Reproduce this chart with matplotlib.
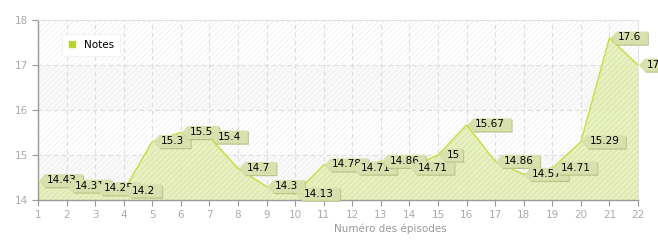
import numpy as np
import matplotlib.pyplot as plt
from matplotlib.patches import Polygon
from matplotlib.lines import Line2D
from matplotlib.transforms import Affine2D, ScaledTranslation

episodes = list(range(1, 23))
notes = [14.43, 14.31, 14.25, 14.2, 15.3, 15.5, 15.4, 14.7, 14.3, 14.13, 14.78,
         14.71, 14.86, 14.71, 15, 15.67, 14.86, 14.57, 14.71, 15.29, 17.6, 17]
labels = ['14.43', '14.31', '14.25', '14.2', '15.3', '15.5', '15.4', '14.7', '14.3',
          '14.13', '14.78', '14.71', '14.86', '14.71', '15', '15.67', '14.86',
          '14.57', '14.71', '15.29', '17.6', '17']
yticks = [14, 15, 16, 17, 18]

plt.rcParams['hatch.linewidth'] = 0.6
fig = plt.figure(figsize=(6.58, 2.4), dpi=100)
ax = fig.add_axes([38 / 658, 40 / 240, 600 / 658, 180 / 240])
ax.set_xlim(1, 22)
ax.set_ylim(14, 18)

# striped background bands + hatch
for lo in (14, 16):
    ax.axhspan(lo, lo + 1, fc='#f9f9f9', ec='none', zorder=0)
ax.axhspan(14, 18, fc='none', ec='#efefef', hatch='//////', lw=0, zorder=0.5)

ax.grid(True, color='#dddddd', ls=(0, (4, 3)), lw=0.8, zorder=1)

ax.fill_between(episodes, notes, 14, color='#e5efb8', alpha=0.85, lw=0, zorder=2)
ax.fill_between(episodes, notes, 14, fc='none', ec='#d8e4a4', hatch='//////', lw=0, zorder=2.1)
ax.plot(episodes, notes, color='#c2df3a', lw=1.0, zorder=3)

# tag-shaped value labels
for i, (x, y, s) in enumerate(zip(episodes, notes, labels)):
    z = 4 + i * 0.1
    tr = Affine2D() + ScaledTranslation(x, y, ax.transData)
    w = 6 + len(s) * 6.6 + 6
    pts = [(1, 0), (7, 6.5), (w, 6.5), (w, -6.5), (7, -6.5)]
    sh = Polygon([(px + 1, py - 1.2) for px, py in pts], closed=True, fc='#b9c38a',
                 ec='none', transform=tr, zorder=z, clip_on=False)
    ax.add_patch(sh)
    tag = Polygon(pts, closed=True, fc='#d9e0ad', ec='none', transform=tr,
                  zorder=z + 0.01, clip_on=False)
    ax.add_patch(tag)
    ax.annotate(s, (x, y), xytext=(8.5, 0.5), textcoords='offset pixels',
                ha='left', va='center', fontsize=7.5, color='black',
                zorder=z + 0.02, annotation_clip=False)

ax.set_xticks(episodes)
ax.set_yticks(yticks)
ax.tick_params(axis='both', colors='#999999', labelcolor='#aaaaaa', labelsize=7.5,
               length=4, width=0.8)
for side in ('left', 'bottom'):
    ax.spines[side].set_color('#999999')
    ax.spines[side].set_linewidth(1.0)
for side in ('top', 'right'):
    ax.spines[side].set_color('#e2e2e2')
    ax.spines[side].set_linewidth(0.8)

fig.text(390 / 658, 1 - 229 / 240, 'Numéro des épisodes', ha='center', va='center',
         fontsize=7.5, color='#999999')

handle = Line2D([], [], marker='s', ls='none', color='#b5d334', markersize=4)
leg = ax.legend([handle], ['Notes'], loc='upper left', bbox_to_anchor=(0.04, 0.925),
                fontsize=7.5, frameon=True, fancybox=True, framealpha=1,
                edgecolor='#f0f0f0', handlelength=0.8, handletextpad=0.7,
                borderpad=0.6, borderaxespad=0)
leg.get_frame().set_linewidth(0.6)
leg.set_zorder(10)

fig.savefig('out.png', dpi=100)
